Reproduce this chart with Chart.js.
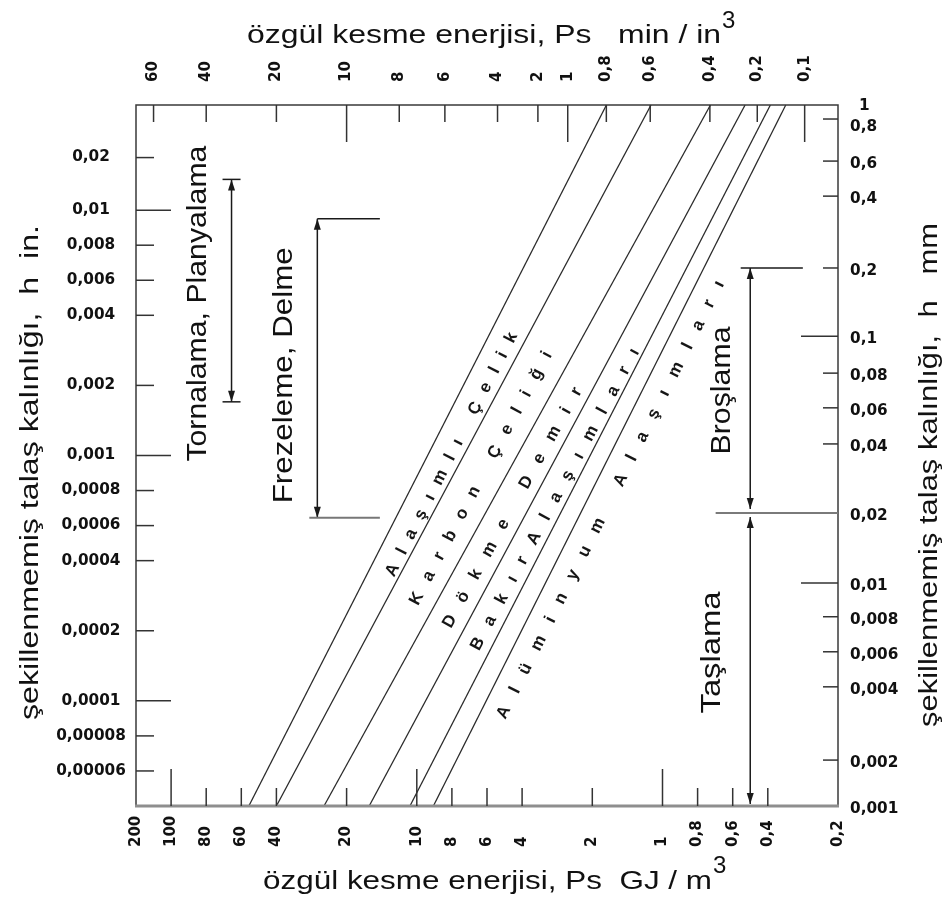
<!DOCTYPE html>
<html>
<head>
<meta charset="utf-8">
<title>özgül kesme enerjisi</title>
<script src="https://cdn.jsdelivr.net/npm/chart.js@4.4.1/dist/chart.umd.min.js"></script>
<style>
  html, body { margin: 0; padding: 0; background: #fff; }
</style>
</head>
<body>
<canvas id="myChart" width="947" height="898"></canvas>
<script>
// tick values of the four axes
const energyGJ = [200, 100, 80, 60, 40, 20, 10, 8, 6, 4, 2, 1, 0.8, 0.6, 0.4, 0.2];
const energyHp = [60, 40, 20, 10, 8, 6, 4, 2, 1, 0.8, 0.6, 0.4, 0.2, 0.1];
const chipIn = [0.02, 0.01, 0.008, 0.006, 0.004, 0.002, 0.001, 0.0008, 0.0006, 0.0004, 0.0002, 0.0001, 0.00008, 0.00006];
const chipMm = [1, 0.8, 0.6, 0.4, 0.2, 0.1, 0.08, 0.06, 0.04, 0.02, 0.01, 0.008, 0.006, 0.004, 0.002, 0.001];

// material lines: energy (GJ/m3) where each line meets the lowest and highest h
const materials = ["Alaşımlı Çelik", "Karbon Çeliği", "Dökme Demir", "BakırAlaşımları", "", "Alüminyum Alaşımları"];
const energyAtMinH = [55, 40, 25, 16, 10.7, 9];
const energyAtMaxH = [1.74, 1.12, 0.72, 0.52, 0.39, 0.335];
const hRange = [0.00004, 0.04]; // in.

// process ranges (first two on the in. axis, last two on the mm axis)
const processes = ["Tornalama, Planyalama", "Frezeleme, Delme", "Broşlama", "Taşlama"];
const processEnergy = [65, 26.7, 0.49, 0.49];
const processFrom = [0.015, 0.00946, 0.2, 0.02];
const processTo = [0.0017, 0.00064, 0.02, 0.001];
const processAxis = ["y", "y", "y2", "y2"];

const titleTop = "özgül kesme enerjisi, Ps   min / in";
const titleBottom = "özgül kesme enerjisi, Ps  GJ / m";
const titleLeft = "şekillenmemiş talaş kalınlığı,  h  in.";
const titleRight = "şekillenmemiş talaş kalınlığı,  h   mm";

// the printed axes are not true log scales: tick value -> slot (0..20) along the axis
const axisAnchors = {
  x: energyGJ.map((v, i) => [v, [0, 1, 2, 3, 4, 6, 8, 9, 10, 11, 13, 15, 16, 17, 18, 20][i]]),
  x2: energyHp.map((v, i) => [v, [0.5, 2, 4, 6, 7.5, 8.8, 10.3, 11.45, 12.3, 13.4, 14.65, 16.35, 17.7, 19.05][i]]),
  y: [[0.04, 20]].concat(chipIn.map((v, i) => [v, [18.5, 17, 16, 15, 14, 12, 10, 9, 8, 7, 5, 3, 2, 1][i]]), [[0.00004, 0]]),
  y2: chipMm.map((v, i) => [v, [20, 19.6, 18.4, 17.4, 15.35, 13.4, 12.35, 11.36, 10.33, 8.36, 6.36, 5.4, 4.4, 3.4, 1.31, 0][i]]),
};

function toSlot(v, a) {
  const lv = Math.log(v);
  let seg = -1;
  for (let i = 0; i < a.length - 1; i++) {
    const l0 = Math.log(a[i][0]), l1 = Math.log(a[i + 1][0]);
    if ((lv - l0) * (lv - l1) <= 0) { seg = i; break; }
  }
  if (seg < 0) seg = Math.abs(lv - Math.log(a[0][0])) < Math.abs(lv - Math.log(a[a.length - 1][0])) ? 0 : a.length - 2;
  const l0 = Math.log(a[seg][0]), l1 = Math.log(a[seg + 1][0]);
  return a[seg][1] + ((lv - l0) / (l1 - l0)) * (a[seg + 1][1] - a[seg][1]);
}

class SlotScale extends Chart.LinearScale {
  determineDataLimits() { this.min = 0; this.max = 20; }
  buildTicks() { return axisAnchors[this.id].map((a) => ({ value: a[0] })); }
  getPixelForValue(v) { return this.getPixelForDecimal(toSlot(v, axisAnchors[this.id]) / 20); }
  getValueForPixel() { return 0; }
}
SlotScale.id = "slot";
SlotScale.defaults = {};
Chart.register(SlotScale);

const fmt = (v) => String(v).replace(".", ",");

function drawText(ctx, str, x, y, o) {
  ctx.save();
  ctx.translate(x, y);
  if (o.rot) ctx.rotate(o.rot);
  ctx.font = o.font;
  ctx.textAlign = o.align || "left";
  ctx.textBaseline = o.baseline || "alphabetic";
  let sx = o.sx || 1;
  if (o.len) sx = o.len / ctx.measureText(str).width;
  ctx.scale(sx, o.sy || 1);
  ctx.fillStyle = o.color || "#111";
  ctx.fillText(str, 0, 0);
  ctx.restore();
}

function spacedText(ctx, str, cx, cy, ang, len, font) {
  ctx.save();
  ctx.translate(cx, cy);
  ctx.rotate(ang);
  ctx.font = font;
  ctx.textBaseline = "middle";
  ctx.fillStyle = "#161616";
  const chars = [...str];
  const w = chars.map((c) => ctx.measureText(c).width);
  const gap = (len - w.reduce((s, v) => s + v, 0)) / (chars.length - 1);
  let x = -len / 2;
  chars.forEach((c, i) => { ctx.fillText(c, x, 0); x += w[i] + gap; });
  ctx.restore();
}

function line(ctx, x1, y1, x2, y2, color, width) {
  ctx.beginPath();
  ctx.moveTo(x1, y1);
  ctx.lineTo(x2, y2);
  ctx.strokeStyle = color;
  ctx.lineWidth = width;
  ctx.stroke();
}

function arrow(ctx, x, y1, y2) {
  line(ctx, x, y1, x, y2, "#1a1a1a", 1.5);
  [[y1, 1], [y2, -1]].forEach(([y, dir]) => {
    ctx.beginPath();
    ctx.moveTo(x, y);
    ctx.lineTo(x - 3.5, y + dir * 11);
    ctx.lineTo(x + 3.5, y + dir * 11);
    ctx.closePath();
    ctx.fillStyle = "#1a1a1a";
    ctx.fill();
  });
}

// label placement along the material lines: [fraction along, offset across, length]
const labelPlace = [[0.515, 21, 272], [0.485, 26, 285], [0.44, 21, 272], [0.45, 19, 340], null, [0.45, 21, 488]];
// process label offsets from the middle of each arrow, and text length
const processText = [[-33, 13, 316], [-33, 7, 256], [-28, 2, 128], [-38, -8, 122]];

const decor = {
  id: "decor",
  afterDatasetsDraw(chart) {
    const { ctx, chartArea: a, scales } = chart;
    const X = scales.x, T = scales.x2, L = scales.y, R = scales.y2;
    const tickFont = "bold 15px 'DejaVu Sans'";
    ctx.save();

    // frame
    ctx.strokeStyle = "#3a3a3a";
    ctx.lineWidth = 1.5;
    ctx.strokeRect(a.left, a.top, a.right - a.left, a.bottom - a.top);
    line(ctx, a.left - 1, a.bottom, a.right + 1, a.bottom, "#8e8e8e", 3);

    // inward ticks
    energyGJ.forEach((v) => {
      if (v === 200 || v === 0.2) return;
      const x = X.getPixelForValue(v);
      line(ctx, x, a.bottom, x, a.bottom - ([100, 10, 1].includes(v) ? 37 : 18), "#333", 1.5);
    });
    energyHp.forEach((v) => {
      const x = T.getPixelForValue(v);
      line(ctx, x, a.top, x, a.top + ([10, 1, 0.1].includes(v) ? 37 : 17), "#333", 1.5);
    });
    chipIn.forEach((v) => {
      const y = L.getPixelForValue(v);
      line(ctx, a.left, y, a.left + ([0.01, 0.001, 0.0001].includes(v) ? 35 : 18), y, "#333", 1.5);
    });
    chipMm.forEach((v) => {
      if (v === 1 || v === 0.001 || v === 0.02) return;
      const y = R.getPixelForValue(v);
      line(ctx, a.right, y, a.right - ([0.1, 0.01].includes(v) ? 37 : 15), y, "#333", 1.5);
    });

    // tick labels
    energyGJ.forEach((v) => drawText(ctx, fmt(v), X.getPixelForValue(v), 847, { font: tickFont, rot: -Math.PI / 2, baseline: "middle" }));
    energyHp.forEach((v) => drawText(ctx, fmt(v), T.getPixelForValue(v), 82, { font: tickFont, rot: -Math.PI / 2, baseline: "middle" }));
    chipIn.forEach((v) => drawText(ctx, fmt(v), 91, L.getPixelForValue(v), { font: tickFont, align: "center", baseline: "middle", sx: 1.02 }));
    chipMm.forEach((v) => {
      const dy = v === 1 ? 1 : v === 0.8 ? 8 : 3;
      drawText(ctx, fmt(v), v === 1 ? 859 : 850, R.getPixelForValue(v) + dy, { font: tickFont, baseline: "middle", sx: 1.02 });
    });

    // axis titles
    const tf = "26px 'Liberation Sans'";
    drawText(ctx, titleTop, 247, 43, { font: tf, len: 474 });
    drawText(ctx, "3", 722, 28, { font: "24px 'Liberation Sans'" });
    drawText(ctx, titleBottom, 263, 889, { font: tf, len: 449 });
    drawText(ctx, "3", 713, 873, { font: "24px 'Liberation Sans'" });
    drawText(ctx, titleLeft, 38, 720, { font: tf, rot: -Math.PI / 2, len: 495 });
    drawText(ctx, titleRight, 937, 727, { font: tf, rot: -Math.PI / 2, len: 504 });

    // process ranges
    processes.forEach((name, i) => {
      const x = X.getPixelForValue(processEnergy[i]);
      const ys = scales[processAxis[i]];
      let y1 = ys.getPixelForValue(processFrom[i]);
      let y2 = ys.getPixelForValue(processTo[i]);
      if (i === 2) y2 -= 4;
      if (i === 3) { y1 += 4; y2 -= 2; }
      arrow(ctx, x, y1, y2);
      if (i === 0) {
        line(ctx, x - 9, y1, x + 9, y1, "#1a1a1a", 1.5);
        line(ctx, x - 9, y2, x + 9, y2, "#1a1a1a", 1.5);
      }
      if (i === 1) {
        line(ctx, x, y1, X.getPixelForValue(14.4), y1, "#1a1a1a", 1.5);
        line(ctx, X.getPixelForValue(28.9), y2, X.getPixelForValue(14.4), y2, "#777", 2);
      }
      if (i === 2) line(ctx, X.getPixelForValue(0.547), y1, X.getPixelForValue(0.283), y1, "#1a1a1a", 1.5);
      const [dx, dy, len] = processText[i];
      drawText(ctx, name, x + dx, (y1 + y2) / 2 + dy, { font: "28px 'Liberation Sans'", rot: -Math.PI / 2, align: "center", baseline: "middle", len });
    });
    const y02 = R.getPixelForValue(0.02);
    line(ctx, X.getPixelForValue(0.69), y02, a.right, y02, "#7a7a7a", 2);

    // material labels along the lines
    materials.forEach((name, i) => {
      const p = labelPlace[i];
      if (!p) return;
      const x0 = X.getPixelForValue(energyAtMinH[i]), y0 = L.getPixelForValue(hRange[0]);
      const x1 = X.getPixelForValue(energyAtMaxH[i]), y1 = L.getPixelForValue(hRange[1]);
      const len = Math.hypot(x1 - x0, y1 - y0);
      const dx = (x1 - x0) / len, dy = (y1 - y0) / len;
      const cx = x0 + dx * p[0] * len - dy * p[1];
      const cy = y0 + dy * p[0] * len + dx * p[1];
      spacedText(ctx, name, cx, cy, Math.atan2(dy, dx), p[2], "bold 17px 'Liberation Sans'");
    });

    ctx.restore();
  },
};

const axisBase = {
  type: "slot",
  grid: { display: false, drawTicks: false },
  border: { display: false },
  ticks: { display: false, callback: (v) => fmt(v) },
};

const ctx = document.getElementById("myChart").getContext("2d");
const myChart = new Chart(ctx, {
  type: "line",
  data: {
    datasets: materials.map((name, i) => ({
      label: name || "—",
      data: [
        { x: energyAtMinH[i], y: hRange[0] },
        { x: energyAtMaxH[i], y: hRange[1] },
      ],
      borderColor: "#2a2a2a",
      borderWidth: 1.3,
      pointRadius: 0,
      fill: false,
      tension: 0,
      xAxisID: "x",
      yAxisID: "y",
    })),
  },
  options: {
    responsive: false,
    animation: false,
    devicePixelRatio: 1,
    events: [],
    layout: { padding: 0 },
    plugins: { legend: { display: false }, tooltip: { enabled: false } },
    scales: {
      x: { ...axisBase, position: "bottom", afterFit: (s) => { s.height = 92; } },
      x2: { ...axisBase, position: "top", afterFit: (s) => { s.height = 105; } },
      y: { ...axisBase, position: "left", afterFit: (s) => { s.width = 136; } },
      y2: { ...axisBase, position: "right", afterFit: (s) => { s.width = 109; } },
    },
  },
  plugins: [decor],
});
</script>
</body>
</html>
